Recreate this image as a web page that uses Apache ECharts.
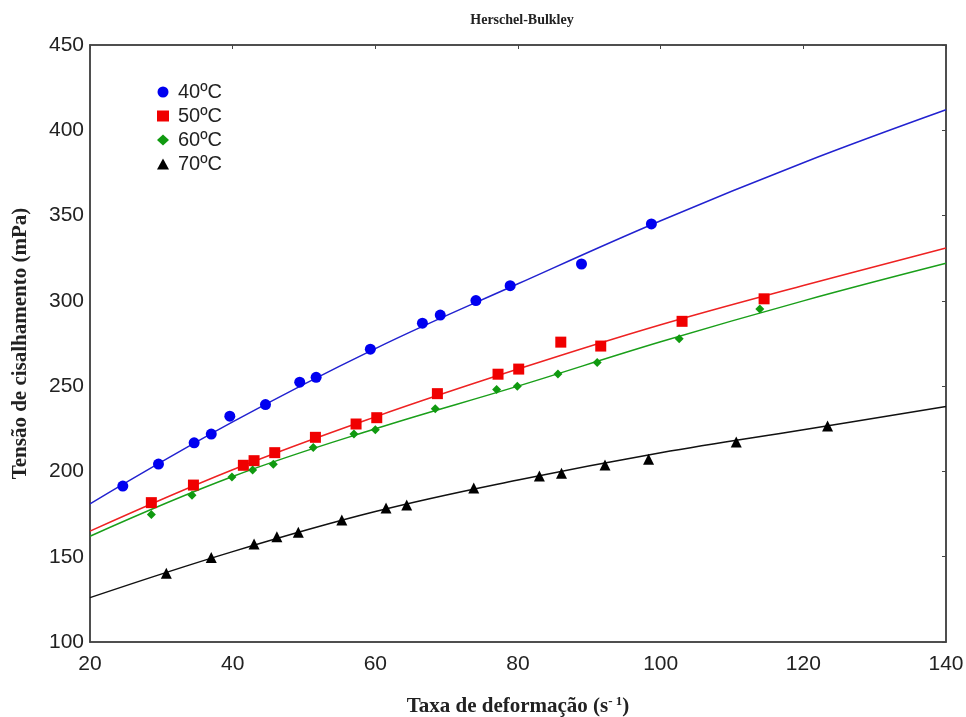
<!DOCTYPE html>
<html>
<head>
<meta charset="utf-8">
<script src="https://cdn.jsdelivr.net/npm/echarts@6/dist/echarts.min.js"></script>
<style>html,body{margin:0;padding:0;background:#fff}#c{width:966px;height:717px}</style>
</head>
<body>
<div id="c"></div>
<script>
var seriesNames = ['40ºC', '50ºC', '60ºC', '70ºC'];

var x40 = [24.6, 29.6, 34.6, 37.0, 39.6, 44.6, 49.4, 51.7, 59.3, 66.6, 69.1, 74.1, 78.9, 88.9, 98.7];
var y40 = [191.4, 204.3, 216.8, 221.9, 232.4, 239.2, 252.3, 255.2, 271.7, 286.9, 291.7, 300.2, 308.9, 321.6, 345.1];

var x50 = [28.6, 34.5, 41.5, 43.0, 45.9, 51.6, 57.3, 60.2, 68.7, 77.2, 80.1, 86.0, 91.6, 103.0, 114.5];
var y50 = [181.7, 192.0, 203.6, 206.3, 211.0, 220.0, 227.8, 231.5, 245.6, 257.0, 260.0, 275.8, 273.5, 288.0, 301.2];

var x60 = [28.6, 34.3, 39.9, 42.8, 45.7, 51.3, 57.0, 60.0, 68.4, 77.0, 79.9, 85.6, 91.1, 102.6, 113.9];
var y60 = [174.8, 186.0, 196.7, 200.8, 204.2, 214.1, 221.9, 224.5, 236.8, 248.1, 249.9, 257.1, 263.9, 277.8, 295.2];

var x70 = [30.7, 37.0, 43.0, 46.2, 49.2, 55.3, 61.5, 64.4, 73.8, 83.0, 86.1, 92.2, 98.3, 110.6, 123.4];
var y70 = [140.3, 149.6, 157.4, 161.7, 164.3, 171.5, 178.5, 180.3, 190.3, 197.3, 198.9, 203.8, 207.1, 217.2, 226.6];

// fitted curves
var fitX = [20, 40, 60, 80, 100, 120, 140];
var fit40 = [181, 229, 272, 310, 347, 381, 412];
var fit50 = [165, 201, 232, 260, 286, 309, 331];
var fit60 = [162, 197, 225, 250, 276, 300, 322];
var fit70 = [126, 153, 176.5, 195, 211, 224.5, 238];

var xTicks = [20, 40, 60, 80, 100, 120, 140];
var yTicks = [100, 150, 200, 250, 300, 350, 400, 450];

function pairs(xs, ys) { return xs.map(function (v, i) { return [v, ys[i]]; }); }

var colors = ['#0000f0', '#f00000', '#109a10', '#000000'];
var lineColors = ['#2222d0', '#ee2222', '#1a9f1a', '#111111'];
var symbols = ['circle', 'rect', 'diamond', 'triangle'];
var sizes = [11, 11, 9, 11];
var xs = [x40, x50, x60, x70];
var ys = [y40, y50, y60, y70];
var fits = [fit40, fit50, fit60, fit70];

var series = [];
for (var i = 0; i < 4; i++) {
  series.push({
    name: seriesNames[i] + ' fit', type: 'line', smooth: 0.4, showSymbol: false, silent: true,
    data: pairs(fitX, fits[i]), lineStyle: { color: lineColors[i], width: 1.5 }, z: 2
  });
}
for (var j = 0; j < 4; j++) {
  series.push({
    name: seriesNames[j], type: 'scatter', symbol: symbols[j], symbolSize: sizes[j],
    data: pairs(xs[j], ys[j]), itemStyle: { color: colors[j], opacity: 1 }, z: 3
  });
}

var chart = echarts.init(document.getElementById('c'), null, { renderer: 'canvas' });
chart.setOption({
  animation: false,
  backgroundColor: '#fff',
  title: {
    text: 'Herschel-Bulkley', left: 517, top: 8, textAlign: 'center',
    textStyle: { fontFamily: 'Liberation Serif', fontWeight: 'bold', fontSize: 14, color: '#222' }
  },
  legend: {
    data: seriesNames.map(function (n, k) { return { name: n, icon: symbols[k], itemStyle: { color: colors[k], opacity: 1 } }; }),
    orient: 'vertical', left: 152, top: 77, itemGap: 4, itemWidth: 12, itemHeight: 11,
    textStyle: { fontFamily: 'Liberation Sans', fontSize: 20, lineHeight: 18, color: '#222', padding: [0, 0, 0, 4] }
  },
  grid: { left: 90, right: 20, top: 45, bottom: 75, containLabel: false, outerBoundsMode: 'none', show: true, borderColor: '#444', borderWidth: 1.5 },
  xAxis: [{
    type: 'value', min: 20, max: 140, interval: 20,
    name: 'Taxa de deformação (s{sup|- 1})', nameLocation: 'middle', nameGap: 53,
    nameTextStyle: {
      fontFamily: 'Liberation Serif', fontWeight: 'bold', fontSize: 21, color: '#222',
      rich: { sup: { fontFamily: 'Liberation Serif', fontWeight: 'bold', fontSize: 13, color: '#222', verticalAlign: 'top', padding: [0, 0, 10, 0] } }
    },
    axisLine: { lineStyle: { color: '#444', width: 1.5 } },
    axisTick: { show: false }, splitLine: { show: false },
    axisLabel: { fontFamily: 'Liberation Sans', fontSize: 21, color: '#222', margin: 12 }
  }, {
    type: 'value', position: 'top', min: 20, max: 140, interval: 20,
    axisLine: { show: true, lineStyle: { color: '#444', width: 1.5 } },
    axisTick: { show: true, inside: true, length: 4, lineStyle: { color: '#444' } },
    axisLabel: { show: false }, splitLine: { show: false }
  }],
  yAxis: [{
    type: 'value', min: 100, max: 450, interval: 50,
    name: 'Tensão de cisalhamento (mPa)', nameLocation: 'middle', nameGap: 59, nameRotate: 90,
    nameTextStyle: { fontFamily: 'Liberation Serif', fontWeight: 'bold', fontSize: 21, color: '#222' },
    axisLine: { show: true, lineStyle: { color: '#444', width: 1.5 } },
    axisTick: { show: false }, splitLine: { show: false },
    axisLabel: { fontFamily: 'Liberation Sans', fontSize: 21, color: '#222', margin: 6 }
  }, {
    type: 'value', position: 'right', min: 100, max: 450, interval: 50,
    axisLine: { show: true, lineStyle: { color: '#444', width: 1.5 } },
    axisTick: { show: true, inside: true, length: 4, lineStyle: { color: '#444' } },
    axisLabel: { show: false }, splitLine: { show: false }
  }],
  series: series
});
</script>
</body>
</html>
